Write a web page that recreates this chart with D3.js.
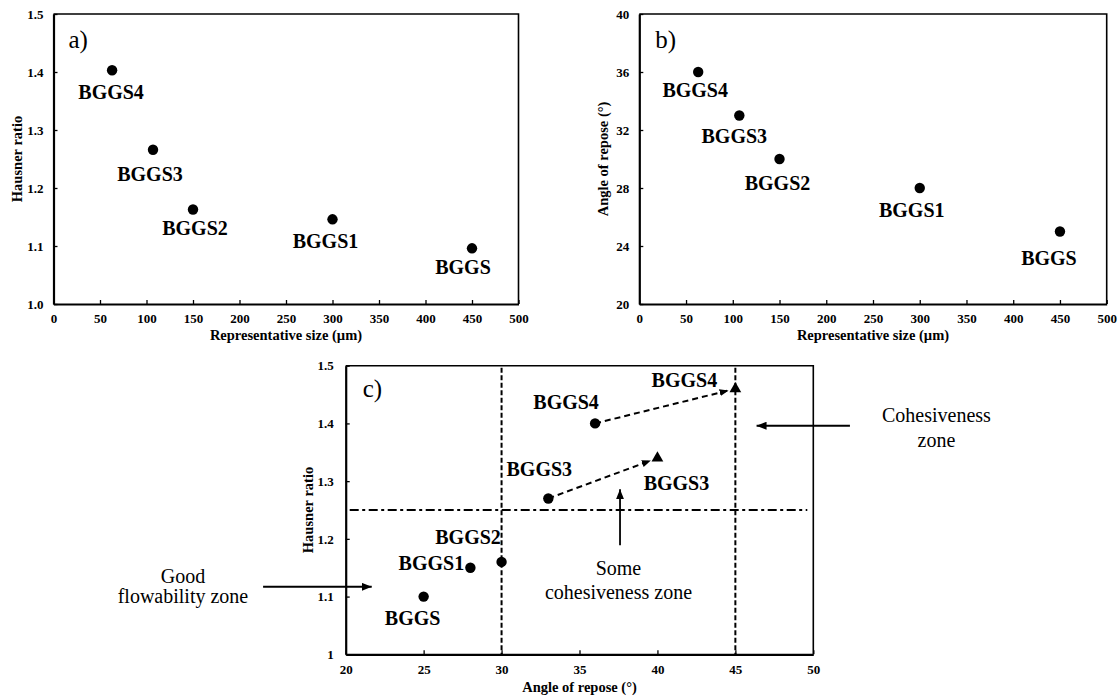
<!DOCTYPE html>
<html>
<head>
<meta charset="utf-8">
<script src="https://cdn.jsdelivr.net/npm/d3@7"></script>
<style>
  html, body { margin: 0; padding: 0; background: #fff; }
  svg { display: block; }
  text { font-family: "Liberation Serif", "Times New Roman", serif; fill: #000; }
</style>
</head>
<body>
<svg id="chart" width="1119" height="700"></svg>
<script>
// ---------- DATA ----------
const samples = ["BGGS", "BGGS1", "BGGS2", "BGGS3", "BGGS4"];
const representativeSize = [450, 300, 150, 107, 63];      // µm
const hausnerRatio = [1.096, 1.146, 1.163, 1.266, 1.403];
const angleOfRepose = [25, 28, 30, 33, 36];                  // °

// panel c
const cSamples = ["BGGS", "BGGS1", "BGGS2", "BGGS3", "BGGS4"];
const cAngle = [25, 28, 30, 33, 36];
const cHausner = [1.10, 1.15, 1.16, 1.27, 1.40];
const triSamples = ["BGGS3", "BGGS4"];
const triAngle = [40, 45];
const triHausner = [1.34, 1.46];

// tick values
const sizeTicks = [0, 50, 100, 150, 200, 250, 300, 350, 400, 450, 500];
const hausnerTicksA = [1.0, 1.1, 1.2, 1.3, 1.4, 1.5];
const angleTicksB = [20, 24, 28, 32, 36, 40];
const angleTicksC = [20, 25, 30, 35, 40, 45, 50];
const hausnerTicksC = [1, 1.1, 1.2, 1.3, 1.4, 1.5];

// zone boundaries (panel c)
const angleLimits = [30, 45];
const hausnerLimit = 1.25;

// ---------- LAYOUT / STYLE ----------
const svg = d3.select("#chart");
const FONT_LBL = 20, FONT_TICK = 13, FONT_TITLE = 14.5;

const defs = svg.append("defs");
function marker(id, len, wid) {
  defs.append("marker").attr("id", id)
    .attr("viewBox", `0 0 ${len} ${wid}`)
    .attr("refX", len).attr("refY", wid / 2)
    .attr("markerUnits", "userSpaceOnUse")
    .attr("markerWidth", len).attr("markerHeight", wid)
    .attr("orient", "auto")
    .append("path").attr("d", `M0,0L${len},${wid / 2}L0,${wid}Z`).attr("fill", "#000");
}
marker("headSmall", 9, 7);
marker("headBig", 10, 8);

function panel(opts) {
  const g = svg.append("g");
  const x = d3.scaleLinear().domain(opts.xDomain).range(opts.xRange);
  const y = d3.scaleLinear().domain(opts.yDomain).range(opts.yRange);

  const xAxis = d3.axisBottom(x).tickValues(opts.xTicks).tickSizeInner(-4).tickSizeOuter(0)
    .tickPadding(10).tickFormat(opts.xFmt);
  const yAxis = d3.axisLeft(y).tickValues(opts.yTicks).tickSizeInner(-4).tickSizeOuter(0)
    .tickPadding(opts.yPad).tickFormat(opts.yFmt);

  const gx = g.append("g").attr("transform", `translate(0,${opts.yRange[0]})`).call(xAxis);
  const gy = g.append("g").attr("transform", `translate(${opts.xRange[0]},0)`).call(yAxis);
  [gx, gy].forEach(a => {
    a.select(".domain").attr("stroke", "#000").attr("stroke-width", 2.2);
    a.selectAll(".tick line").attr("stroke", "#000").attr("stroke-width", 1.3);
    a.selectAll(".tick text").attr("font-family", "Liberation Serif").attr("font-weight", "bold")
      .attr("font-size", FONT_TICK).attr("fill", "#000");
  });
  // frame top/right
  g.append("path")
    .attr("d", `M${opts.xRange[0]},${opts.yRange[1]}H${opts.xRange[1]}V${opts.yRange[0]}`)
    .attr("fill", "none").attr("stroke", "#000").attr("stroke-width", 1.6);

  // titles
  g.append("text").attr("x", (opts.xRange[0] + opts.xRange[1]) / 2).attr("y", opts.xTitleY)
    .attr("text-anchor", "middle").attr("font-weight", "bold").attr("font-size", FONT_TITLE)
    .text(opts.xTitle);
  g.append("text")
    .attr("transform", `translate(${opts.yTitleX},${(opts.yRange[0] + opts.yRange[1]) / 2}) rotate(-90)`)
    .attr("text-anchor", "middle").attr("dy", "0.35em").attr("font-weight", "bold").attr("font-size", FONT_TITLE)
    .text(opts.yTitle);
  // panel letter
  g.append("text").attr("x", opts.xRange[0] + opts.letterDx).attr("y", opts.yRange[1] + opts.letterDy)
    .attr("font-size", 25).text(opts.letter);
  return { g, x, y };
}

function points(p, xs, ys, names, offsets) {
  const data = names.map((n, i) => ({ n, x: xs[i], y: ys[i], o: offsets[i] }));
  p.g.selectAll(null).data(data).enter().append("circle")
    .attr("cx", d => p.x(d.x)).attr("cy", d => p.y(d.y)).attr("r", 5.2).attr("fill", "#000");
  p.g.selectAll(null).data(data).enter().append("text")
    .attr("x", d => p.x(d.x) + d.o[0]).attr("y", d => p.y(d.y) + d.o[1])
    .attr("text-anchor", "middle").attr("font-weight", "bold").attr("font-size", FONT_LBL)
    .text(d => d.n);
}

// ---------- PANEL A ----------
const pa = panel({
  xDomain: [0, 500], xRange: [53.5, 518.5], yDomain: [1.0, 1.5], yRange: [304, 14],
  xTicks: sizeTicks, yTicks: hausnerTicksA, xFmt: d3.format("d"), yFmt: d3.format(".1f"), yPad: 10,
  xTitle: "Representative size (µm)", xTitleY: 340,
  yTitle: "Hausner ratio", yTitleX: 17, letter: "a)", letterDx: 15, letterDy: 34
});
// label offsets [dx, dy] in px, order of samples
points(pa, representativeSize, hausnerRatio, samples, [[-9, 26], [-7, 29], [2, 26], [-3, 31], [-1, 29]]);

// ---------- PANEL B ----------
const pb = panel({
  xDomain: [0, 500], xRange: [639.3, 1106.7], yDomain: [20, 40], yRange: [304, 14],
  xTicks: sizeTicks, yTicks: angleTicksB, xFmt: d3.format("d"), yFmt: d3.format("d"), yPad: 10,
  xTitle: "Representative size (µm)", xTitleY: 340,
  yTitle: "Angle of repose (°)", yTitleX: 603, letter: "b)", letterDx: 16, letterDy: 34
});
points(pb, representativeSize, angleOfRepose, samples, [[-11, 33], [-8, 29], [-2, 31], [-5, 27], [-3, 25]]);

// ---------- PANEL C ----------
const pc = panel({
  xDomain: [20, 50], xRange: [345.7, 813.3], yDomain: [1, 1.5], yRange: [654.3, 365.7],
  xTicks: angleTicksC, yTicks: hausnerTicksC, xFmt: d3.format("d"), yFmt: d => String(+d.toFixed(1)), yPad: 12,
  xTitle: "Angle of repose (°)", xTitleY: 692,
  yTitle: "Hausner ratio", yTitleX: 308, letter: "c)", letterDx: 17, letterDy: 31
});

// zone lines
pc.g.selectAll(null).data(angleLimits).enter().append("line")
  .attr("x1", d => pc.x(d)).attr("x2", d => pc.x(d))
  .attr("y1", pc.y(1.5) + 2).attr("y2", pc.y(1))
  .attr("stroke", "#000").attr("stroke-width", 2).attr("stroke-dasharray", "5,2.5");
pc.g.append("line")
  .attr("x1", pc.x(20) + 4).attr("x2", pc.x(50) - 6)
  .attr("y1", pc.y(hausnerLimit)).attr("y2", pc.y(hausnerLimit))
  .attr("stroke", "#000").attr("stroke-width", 2).attr("stroke-dasharray", "9,3.5,3,3.5");

// dashed arrows from circles to triangles
triSamples.forEach((s, i) => {
  const j = cSamples.indexOf(s);
  const x0 = pc.x(cAngle[j]), y0 = pc.y(cHausner[j]);
  const x1 = pc.x(triAngle[i]), y1 = pc.y(triHausner[i]);
  const L = Math.hypot(x1 - x0, y1 - y0), cut = 7;
  pc.g.append("line")
    .attr("x1", x0).attr("y1", y0)
    .attr("x2", x1 - (x1 - x0) * cut / L).attr("y2", y1 - (y1 - y0) * cut / L)
    .attr("stroke", "#000").attr("stroke-width", 2).attr("stroke-dasharray", "6,4")
    .attr("marker-end", "url(#headSmall)");
});

// circles + labels
points(pc, cAngle, cHausner, cSamples, [[-11, 28], [-39, 2], [-33.5, -18], [-9, -22], [-29, -14]]);
// triangles + labels
const triData = triSamples.map((n, i) => ({ n, x: triAngle[i], y: triHausner[i] }));
const triOff = [[19, 32], [-51, -2]];
pc.g.selectAll(null).data(triData).enter().append("path")
  .attr("d", d3.symbol(d3.symbolTriangle, 60))
  .attr("transform", d => `translate(${pc.x(d.x)},${pc.y(d.y)})`).attr("fill", "#000");
pc.g.selectAll(null).data(triData).enter().append("text")
  .attr("x", (d, i) => pc.x(d.x) + triOff[i][0]).attr("y", (d, i) => pc.y(d.y) + triOff[i][1])
  .attr("text-anchor", "middle").attr("font-weight", "bold").attr("font-size", FONT_LBL)
  .text(d => d.n);

// zone annotations (in data coordinates of panel c)
const annArrows = [
  { from: [37.6, 1.189], to: [37.6, 1.286] },
  { from: [52.35, 1.396], to: [46.36, 1.396] },
  { from: [14.7, 1.117], to: [21.67, 1.117] }
];
pc.g.selectAll(null).data(annArrows).enter().append("line")
  .attr("x1", d => pc.x(d.from[0])).attr("y1", d => pc.y(d.from[1]))
  .attr("x2", d => pc.x(d.to[0])).attr("y2", d => pc.y(d.to[1]))
  .attr("stroke", "#000").attr("stroke-width", 1.8).attr("marker-end", "url(#headBig)");

const annTexts = [
  { t: "Some", x: 37.5, y: 1.1374 },
  { t: "cohesiveness zone", x: 37.5, y: 1.0958 },
  { t: "Cohesiveness", x: 57.9, y: 1.403 },
  { t: "zone", x: 57.9, y: 1.360 },
  { t: "Good", x: 9.56, y: 1.1235 },
  { t: "flowability zone", x: 9.56, y: 1.089 }
];
pc.g.selectAll(null).data(annTexts).enter().append("text")
  .attr("x", d => pc.x(d.x)).attr("y", d => pc.y(d.y))
  .attr("text-anchor", "middle").attr("font-size", 20).text(d => d.t);
</script>
</body>
</html>
